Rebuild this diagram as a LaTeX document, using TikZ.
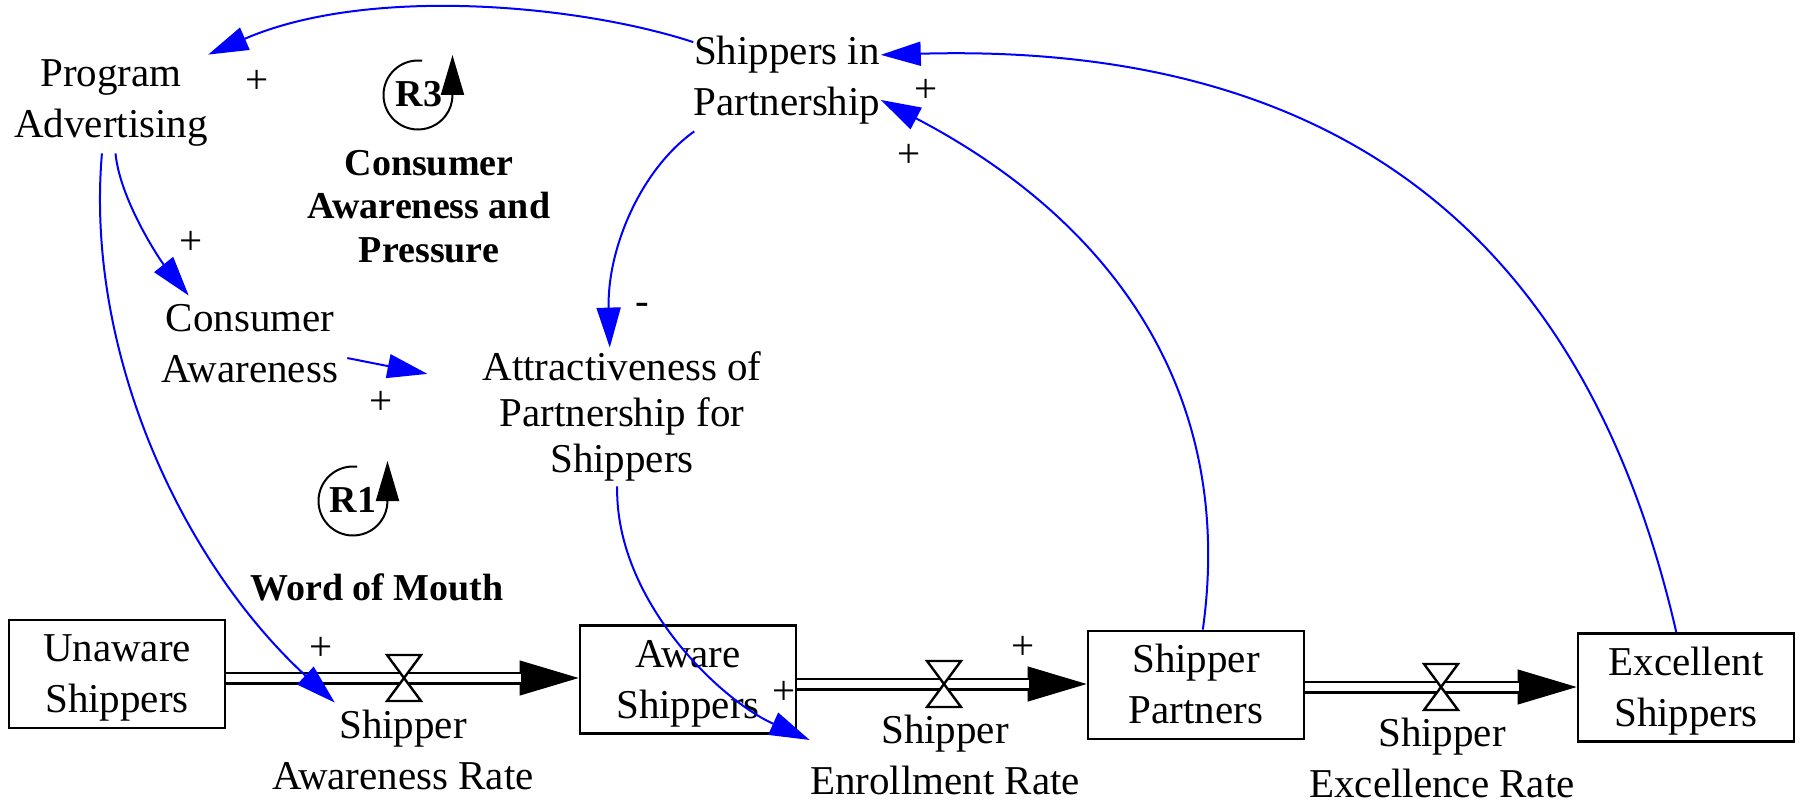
\documentclass[tikz,border=0pt]{standalone}
\usepackage{fontspec}
\setmainfont{Liberation Serif}
\usetikzlibrary{arrows.meta}
\tikzset{
  valve/.pic={\draw[line width=1.2pt,fill=white] (-8.5pt,11.5pt) -- (8.5pt,11.5pt) -- (-8.5pt,-11.5pt) -- (8.5pt,-11.5pt) -- cycle;}
}
% a taller strut that sets stock labels slightly lower in their boxes
\newcommand{\stockstrut}{\rule{0pt}{20.85pt}}
\begin{document}
\begin{tikzpicture}[x=0.5pt,y=-0.5pt,
  txt/.style={inner sep=0pt,align=center,font=\fontsize{20.5}{25.5}\selectfont},
  txttight/.style={inner sep=0pt,align=center,font=\fontsize{20.5}{23}\selectfont},
  looptxt/.style={inner sep=0pt,align=center,font=\fontsize{19}{21.75}\selectfont\bfseries},
  sign/.style={inner sep=0pt,font=\fontsize{20.5}{25.5}\selectfont},
  stock/.style={draw,line width=1.4pt,minimum width=108pt,minimum height=53.75pt,inner sep=0pt,align=center,font=\fontsize{20.5}{25.5}\selectfont},
  conn/.style={blue,line width=1pt,-{Triangle[length=20pt,width=12pt]}},
  pipe/.style={draw=black,double=white,double distance=4pt,line width=1.25pt},
  flowtip/.style={black,line width=0.5pt,-{Triangle[length=29.5pt,width=17.5pt]}},
  loopln/.style={black,line width=1pt,-{Triangle[length=20pt,width=11.5pt]}}
]
\useasboundingbox (0,0) rectangle (1807,802);

% auxiliary variables
\node[txt] (pa) at (111,102) {\strut Program\\Advertising\strut};
\node[txt] (sip) at (787,80) {\strut Shippers in\\Partnership\strut};
\node[txt] (ca) at (250,347) {\strut Consumer\\Awareness\strut};
\node[txttight] (att) at (622,417) {\strut Attractiveness of\\Partnership for\\Shippers\strut};

% loop names
\node[looptxt] (capl) at (429,210) {\strut Consumer\\Awareness and\\Pressure\strut};
\node[looptxt,anchor=base] (wom) at (377,600) {Word of Mouth};

% loop markers
\coordinate (r3c) at (418,95);
\coordinate (r1c) at (353,501);
\draw[loopln] ([shift={(83:17.25pt)}]r3c) arc[start angle=83,end angle=360,radius=17.25pt] -- ++(0pt,20pt);
\draw[loopln] ([shift={(83:17.25pt)}]r1c) arc[start angle=83,end angle=360,radius=17.25pt] -- ++(0pt,20pt);
\node[looptxt,anchor=base] (r3) at (419,107) {R3};
\node[looptxt,anchor=base] (r1) at (353,512) {R1};

% stocks
\node[stock] (unaware) at (117,674) {\stockstrut Unaware\\Shippers\strut};
\node[stock] (aware) at (688,679.5) {\stockstrut Aware\\Shippers\strut};
\node[stock] (spt) at (1196,685) {\stockstrut Shipper\\Partners\strut};
\node[stock] (exs) at (1686,687.5) {\stockstrut Excellent\\Shippers\strut};

% flows
\coordinate (v1) at (404,678);
\coordinate (v2) at (944,684);
\coordinate (v3) at (1441,687);
\draw[flowtip] (v1) -- (aware.west |- v1);
\draw[pipe,shorten >=29pt] (unaware.east |- v1) -- (aware.west |- v1);
\pic at (v1) {valve};
\draw[flowtip] (v2) -- (spt.west |- v2);
\draw[pipe,shorten >=29pt] (aware.east |- v2) -- (spt.west |- v2);
\pic at (v2) {valve};
\draw[flowtip] (v3) -- (exs.west |- v3);
\draw[pipe,shorten >=29pt] (spt.east |- v3) -- (exs.west |- v3);
\pic at (v3) {valve};

\node[txt] (lab1) at (403,754) {\strut Shipper\\Awareness Rate\strut};
\node[txt] (lab2) at (945,759) {\strut Shipper\\Enrollment Rate\strut};
\node[txt] (lab3) at (1442,754.6) {\strut Shipper\\Excellence Rate};

% causal links
\draw[conn] (sip.158) .. controls (580,5) and (369,-15) .. (pa.26);
\draw[conn] (spt.83) .. controls (1235,400) and (1120,225) .. (sip.-12);
\draw[conn] (exs.100) .. controls (1600,300) and (1400,40) .. (sip.15);
\draw[conn] (sip.209) .. controls (640,170) and (607,250) .. (att.100);
\draw[conn] (pa.-85) .. controls (120,200) and (160,260) .. (ca.140);
\draw[conn,shorten <=4.5pt,shorten >=27.9pt] (ca.-6) -- (att.167);
\draw[conn] (pa.-100) .. controls (85,350) and (180,560) .. (lab1.143);
\draw[conn] (att.-94) .. controls (615,600) and (720,700) .. (lab2.172);

% polarities
\node[sign] (s1) at (257,82) {+};
\node[sign] (s2) at (926,91) {+};
\node[sign] (s3) at (909,156) {+};
\node[sign] (s4) at (191,243) {+};
\node[sign] (s5) at (381,403) {+};
\node[sign] (s6) at (321,649) {+};
\node[sign] (s7) at (784,693) {+};
\node[sign] (s8) at (1023,648) {+};
\node[sign] (m1) at (642,309) {-};
\end{tikzpicture}
\end{document}
